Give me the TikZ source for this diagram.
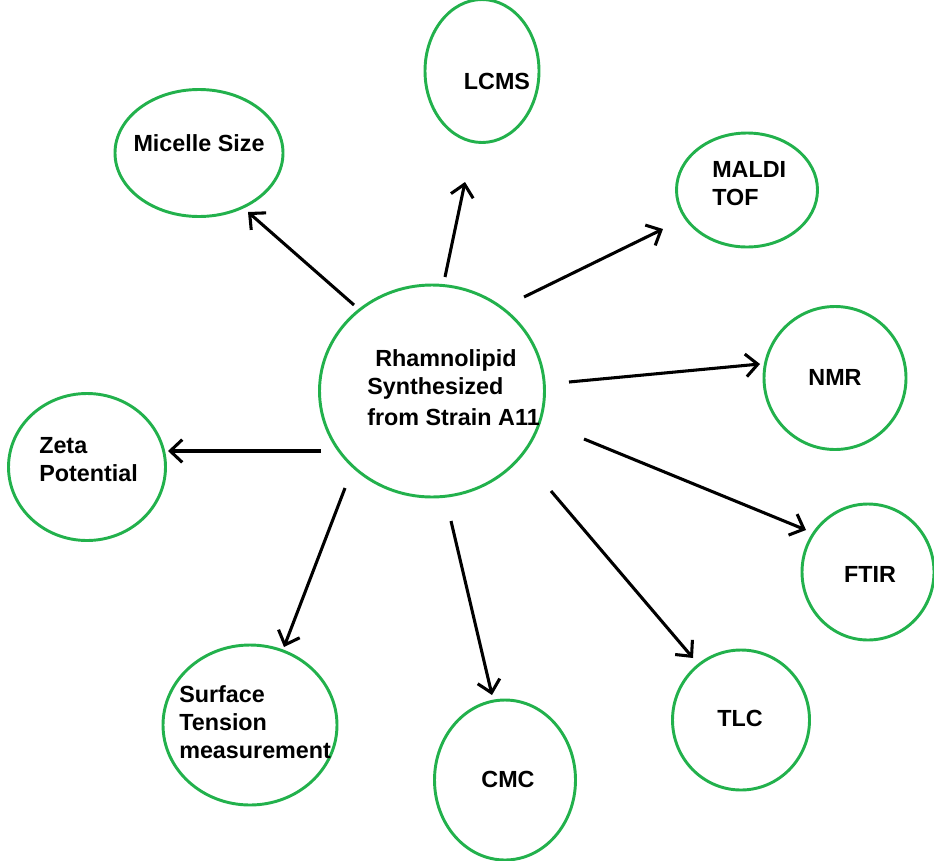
\documentclass[tikz,border=0pt]{standalone}
\usepackage{fontspec}
\setmainfont{Liberation Sans}
\usetikzlibrary{shapes.geometric,arrows.meta}
\definecolor{pgreen}{RGB}{34,177,76}
\begin{document}
\begin{tikzpicture}[x=0.75pt,y=-0.75pt,
  bubble/.style args={#1/#2}{draw=pgreen,line width=2.2pt,ellipse,inner sep=0pt,
     minimum width={#1*0.75pt},minimum height={#2*0.75pt}},
  lbl/.style={font=\fontsize{17.5pt}{21pt}\selectfont\bfseries,align=left,inner sep=0pt},
  arr/.style={line width=2.3pt,-{Straight Barb[length=9pt,width=17pt,line width=2.3pt]}}]
\useasboundingbox (0,0) rectangle (934,860);
% bubbles
\node[bubble=225/212] (c) at (432,391) {};
\node[bubble=114/143] (lcms) at (482,71) {};
\node[bubble=168/127] (mic) at (199,153) {};
\node[bubble=141/114] (maldi) at (747,190) {};
\node[bubble=142/143] (nmr) at (835,378) {};
\node[bubble=132/136] (ftir) at (868,572) {};
\node[bubble=137/140] (tlc) at (741,720) {};
\node[bubble=141/160] (cmc) at (505,780) {};
\node[bubble=174/160] (st) at (250,725) {};
\node[bubble=157/147] (zeta) at (87,467) {};
% texts
\node[lbl,anchor=west] (tc1) at (375,360) {Rhamnolipid};
\node[lbl,anchor=west] (tc2) at (367,388) {Synthesized};
\node[lbl,anchor=west] (tc3) at (367,417) {from Strain A11};
\node[lbl] (tlcms) at (497,81) {LCMS};
\node[lbl] (tmic) at (199,143) {Micelle Size};
\node[lbl,anchor=west] (tmaldi) at (712,184) {MALDI\\TOF};
\node[lbl] (tnmr) at (835,377) {NMR};
\node[lbl] (tftir) at (870,574) {FTIR};
\node[lbl] (ttlc) at (740,718) {TLC};
\node[lbl] (tcmc) at (508,779) {CMC};
\node[lbl,anchor=west] (tst) at (179,722) {Surface\\Tension\\measurement};
\node[lbl,anchor=west] (tzeta) at (39,460) {Zeta\\Potential};
% arrow end points
\coordinate (a1s) at (354,305); \coordinate (a1e) at (248,212);
\coordinate (a2s) at (445,277); \coordinate (a2e) at (465,182);
\coordinate (a3s) at (524,297); \coordinate (a3e) at (663,229);
\coordinate (a4s) at (569,382); \coordinate (a4e) at (760,364);
\coordinate (a5s) at (584,439); \coordinate (a5e) at (806,530);
\coordinate (a6s) at (551,491); \coordinate (a6e) at (693,658);
\coordinate (a7s) at (451,521); \coordinate (a7e) at (492,695);
\coordinate (a8s) at (345,488); \coordinate (a8e) at (284,647);
\coordinate (a9s) at (321,451); \coordinate (a9e) at (168,451);
\foreach \i in {1,...,9}{\draw[arr] (a\i s) -- (a\i e);}
\end{tikzpicture}
\end{document}
